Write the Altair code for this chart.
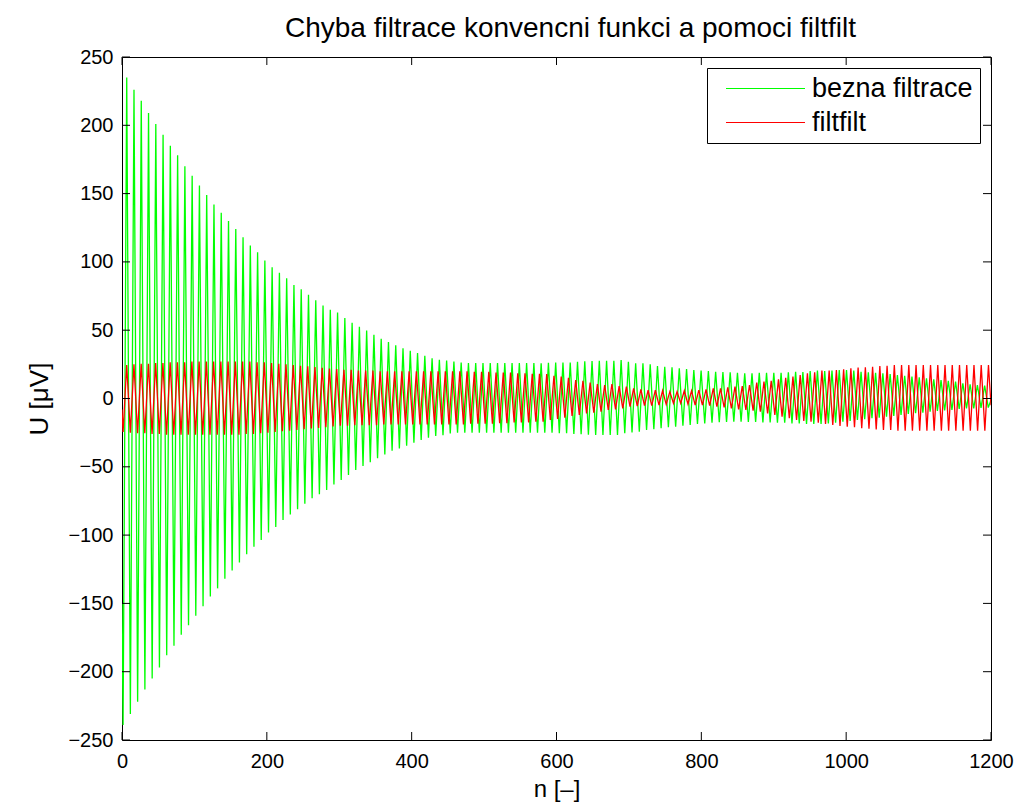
import altair as alt
import pandas as pd

TITLE = "Chyba filtrace konvencni funkci a pomoci filtfilt"
X_TITLE = "n [–]"
Y_TITLE = "U [μV]"
SERIES = ["bezna filtrace", "filtfilt"]
COLORS = ["#00ff00", "#ff0000"]
X_TICKS = [0, 200, 400, 600, 800, 1000, 1200]
Y_TICKS = [-250, -200, -150, -100, -50, 0, 50, 100, 150, 200, 250]

# per-cycle maxima / minima (120 cycles)
green_peaks = [
    235, 226, 218, 209, 201, 193, 185, 178, 170, 163,
    156, 149, 142, 136, 130, 124, 118, 112, 107, 101,
    96, 92, 88, 83, 80, 76, 72, 68, 65, 63,
    59, 55.5, 52.5, 49.7, 46.7, 43.8, 41.4, 39, 36.8, 35,
    33.2, 31.2, 29.5, 28.3, 27.8, 27.1, 26.3, 26, 26, 26,
    26, 26, 26, 26, 26, 26, 26, 25.8, 26.2, 26.4,
    26.4, 26.4, 26.9, 27.2, 27.4, 27.6, 27.6, 27.6, 28.2, 26.9,
    25.7, 25.7, 25, 23.8, 23.3, 22.8, 22.1, 21.6, 20.9, 20.4,
    20.1, 19.6, 19.4, 19.1, 18.9, 18.4, 18.4, 18.9, 18.9, 18.9,
    18.9, 19.1, 19.6, 19.4, 20.1, 20.4, 20.1, 20.4, 20.9, 20.9,
    20.4, 19.6, 19.1, 18.9, 18.4, 17.9, 17.2, 16.7, 16, 15.5,
    14.8, 14, 13.5, 13, 12.3, 11.1, 10.4, 9.9, 9.4, 8.7,
]
green_troughs = [
    -239, -231, -222, -213, -205, -197, -188, -181, -173, -166,
    -159, -152, -145, -139, -132, -126, -120, -114, -108.5, -103.6,
    -98, -94, -89, -85, -81, -77, -73, -70, -67, -63,
    -59.6, -56, -52.3, -49.4, -46.7, -43.8, -40.9, -38.2, -36.5, -34.6,
    -32.4, -30.4, -28.7, -27.5, -26.8, -25.6, -25.1, -25.1, -25.1, -25.1,
    -25.1, -25.1, -25.1, -25.1, -25.1, -25.1, -25.1, -25.1, -25, -25,
    -25.5, -25.5, -26, -26.2, -26.5, -26.7, -26.7, -26.7, -26.7, -25.5,
    -24.8, -24.3, -23, -22.5, -21.7, -21, -20.6, -19.9, -19.4, -18.7,
    -18.2, -17.7, -17.4, -17.2, -17, -17, -17.2, -17.2, -17.5, -17.5,
    -17.7, -17.7, -18.2, -18.2, -18.7, -18.7, -18.7, -18.2, -17.7, -17,
    -16.5, -15.7, -15.2, -14.5, -14, -13.3, -12.8, -12, -11.3, -10.8,
    -10.4, -9.6, -9.1, -8.8, -8.4, -7.7, -7.2, -7.2, -6.9, -6.7,
]
red_peaks = [
    24.5, 25, 25.5, 25.5, 26, 26, 26.5, 26.5, 26.5, 27,
    27, 27, 27, 27, 27, 27, 27, 27, 26.5, 26.5,
    26, 25.5, 25, 24.5, 24, 23.5, 23, 22.5, 22, 21.5,
    21, 21, 20.5, 20.5, 20.5, 20, 20, 20, 20, 20,
    20, 20, 20, 20, 20, 20, 20, 20, 19.5, 19.5,
    19.5, 19, 19, 19, 18.5, 18.5, 18, 18, 17.9, 16.7,
    16, 15.2, 13.5, 13, 11.6, 10.6, 9.9, 10.6, 9.1, 8.7,
    7.4, 6.7, 6.2, 6.2, 5.7, 5, 5, 5.7, 5.7, 6.2,
    6.7, 7.4, 7.4, 8.2, 8.7, 9.1, 9.9, 11.6, 12.3, 13,
    14, 15.2, 16, 17.2, 18.4, 19.1, 20.4, 20.4, 20.9, 21.3,
    22.1, 22.6, 22.8, 23.3, 23.8, 24, 24.5, 24.5, 24.5, 24.5,
    24.5, 24.5, 24.5, 24.5, 24.5, 24.5, 24.5, 24.5, 24.5, 24.5,
]
red_troughs = [
    -24.5, -25, -25.5, -25.5, -26, -26, -26.5, -26.5, -26.5, -26.5,
    -26.5, -26.5, -26.5, -26.5, -26.5, -26.5, -26.5, -26, -26, -25.5,
    -25, -24.5, -24, -23.5, -23, -22.5, -22, -21.5, -21, -20.5,
    -20, -20, -19.5, -19.5, -19.5, -19.5, -19, -19, -19, -19,
    -19, -19, -19, -19, -19, -19, -19, -19, -18.5, -18.5,
    -18.5, -18.5, -18, -18, -17.5, -17.5, -17.5, -17, -17, -15.7,
    -15, -14, -12.8, -12.1, -10.9, -10.4, -9.6, -8.4, -7.9, -7.2,
    -6, -5.5, -5.2, -5.2, -4.8, -4.3, -3.5, -3.5, -4, -4.8,
    -4.8, -5.2, -6, -6.5, -7.2, -7.9, -8.4, -8.9, -9.6, -10.9,
    -12.1, -13.3, -14.5, -15.7, -16.5, -17, -17.7, -18.7, -19.4, -20.1,
    -20.6, -21.1, -21.8, -22.2, -22.6, -23, -23, -23.5, -23.5, -23.5,
    -23.5, -23.5, -23.5, -23.5, -23.5, -23.5, -23.5, -23.5, -23.5, -23.5,
]
# start / end sample values
green_ends = [-150, -1]
red_ends = [-8, -5]
# cycle lengths in samples and first minimum position
green_cycle = 10.04
red_cycle = 10.0
first_min = 1.5
N_MAX = 1200


def build(name, peaks, troughs, cycle, ends):
    rows = [{"series": name, "n": 0.0, "u": ends[0]}]
    for k, (t, p) in enumerate(zip(troughs, peaks)):
        rows.append({"series": name, "n": first_min + k * cycle, "u": t})
        rows.append({"series": name, "n": first_min + cycle / 2 + k * cycle, "u": p})
    rows.append({"series": name, "n": float(N_MAX), "u": ends[1]})
    df = pd.DataFrame(rows)
    df = df[df["n"] <= N_MAX]
    df["i"] = range(len(df))
    return df


green_df = build(SERIES[0], green_peaks, green_troughs, green_cycle, green_ends)
red_df = build(SERIES[1], red_peaks, red_troughs, red_cycle, red_ends)

W, H = 869, 683
TICK = 8
FONT = "Liberation Sans"

xscale = alt.Scale(domain=[0, N_MAX], nice=False, zero=False)
yscale = alt.Scale(domain=[-250, 250], nice=False, zero=False)
cscale = alt.Scale(domain=SERIES, range=COLORS)

legend = alt.Legend(
    title=None, orient="none", legendX=585, legendY=11,
    strokeColor="black", fillColor="white", padding=7,
    symbolType="M-3.95,0H3.95", symbolSize=400, symbolStrokeWidth=1,
    labelFontSize=27, labelFont=FONT, labelColor="black", labelLimit=400,
    rowPadding=6, symbolOffset=38, labelOffset=33,
)

xaxis = alt.Axis(values=X_TICKS, title=X_TITLE, ticks=False, domain=False, grid=False,
                 labelPadding=11, titlePadding=6, format="d", labelFlush=False,
                 titleFontSize=24)
yaxis = alt.Axis(values=Y_TICKS, title=Y_TITLE, ticks=False, domain=False, grid=False,
                 labelPadding=9, titlePadding=15, format="d", labelFlush=False,
                 titleFontSize=26)


def line_layer(df):
    return alt.Chart(df).mark_line(strokeWidth=1.3, clip=True).encode(
        x=alt.X("n:Q", scale=xscale, axis=xaxis),
        y=alt.Y("u:Q", scale=yscale, axis=yaxis),
        color=alt.Color("series:N", scale=cscale, legend=legend),
        order="i:Q",
    )


ytick_df = pd.DataFrame({"v": Y_TICKS})
xtick_df = pd.DataFrame({"v": X_TICKS})

tick_left = alt.Chart(ytick_df).mark_rule(color="black", strokeWidth=1).encode(
    y=alt.Y("v:Q", scale=yscale, axis=yaxis), x=alt.value(0), x2=alt.value(TICK))
tick_right = alt.Chart(ytick_df).mark_rule(color="black", strokeWidth=1).encode(
    y=alt.Y("v:Q", scale=yscale, axis=yaxis), x=alt.value(W - TICK), x2=alt.value(W))
tick_bottom = alt.Chart(xtick_df).mark_rule(color="black", strokeWidth=1).encode(
    x=alt.X("v:Q", scale=xscale, axis=xaxis), y=alt.value(H - TICK), y2=alt.value(H))
tick_top = alt.Chart(xtick_df).mark_rule(color="black", strokeWidth=1).encode(
    x=alt.X("v:Q", scale=xscale, axis=xaxis), y=alt.value(0), y2=alt.value(TICK))

chart = alt.layer(
    line_layer(green_df), line_layer(red_df),
    tick_left, tick_right, tick_bottom, tick_top,
).properties(
    width=W, height=H,
    title=alt.TitleParams(TITLE, fontSize=28, font=FONT, fontWeight="normal",
                          color="black", offset=4, anchor="middle", dx=14),
    padding={"left": 114, "top": 49, "right": 25, "bottom": 64},
    autosize=alt.AutoSizeParams(type="none"),
).configure_view(
    stroke="black", strokeWidth=1
).configure_axis(
    labelFont=FONT, labelFontSize=20, labelColor="black",
    titleFont=FONT, titleColor="black", titleFontWeight="normal",
)

chart.save("out.html", embed_options={"renderer": "svg", "actions": False})
